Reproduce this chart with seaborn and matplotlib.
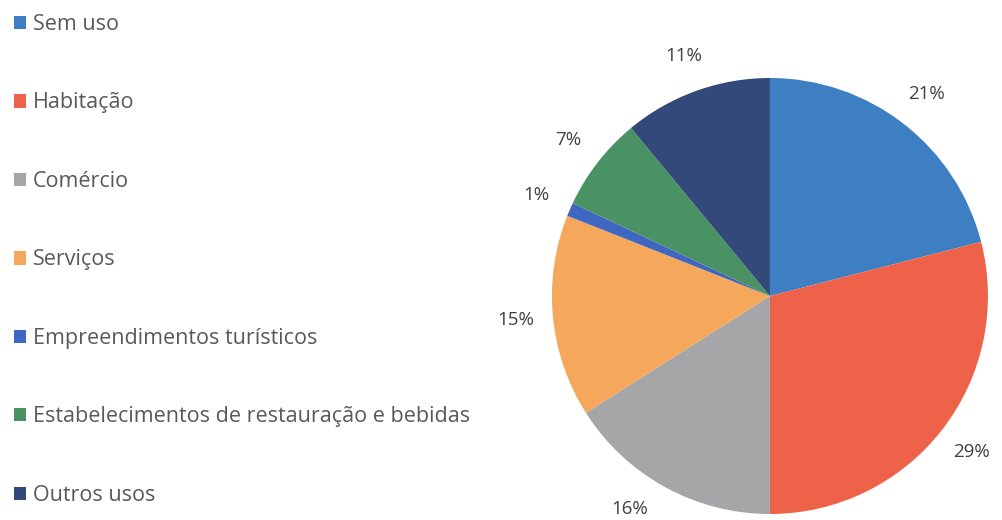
import matplotlib
matplotlib.use("Agg")
import matplotlib.pyplot as plt
import seaborn as sns
from matplotlib.patches import Patch

# dados
categorias = ['Sem uso', 'Habitação', 'Comércio', 'Serviços',
              'Empreendimentos turísticos',
              'Estabelecimentos de restauração e bebidas', 'Outros usos']
percentagens = [21, 29, 16, 15, 1, 7, 11]
cores = ['#3e7fc4', '#ee6249', '#a6a6a9', '#f5a75b', '#3f66c0', '#4a9263', '#33497a']

sns.set_theme(style="white")
plt.rcParams['font.family'] = ['Open Sans', 'DejaVu Sans']
paleta = sns.color_palette(cores)

fig = plt.figure(figsize=(10.03, 5.20), dpi=100)
ax = fig.add_axes([0.5503, 0.0115, 0.4347, 0.8385])

wedges, texts, autotexts = ax.pie(
    percentagens, colors=paleta, startangle=90, counterclock=False,
    autopct='%1.0f%%', pctdistance=1.17,
    wedgeprops=dict(linewidth=0),
    textprops=dict(fontsize=13.5, color='#404040'))
for t in autotexts:
    t.set_clip_on(False)
# 16% fica quase no fundo da figura
autotexts[2].set_position((autotexts[2].get_position()[0] - 0.08,
                           autotexts[2].get_position()[1] + 0.05))
ax.set_xlim(-1, 1)
ax.set_ylim(-1, 1)
ax.set_aspect('equal')

handles = [Patch(facecolor=c, edgecolor='none') for c in paleta]
fig.legend(handles, categorias, loc='upper left', bbox_to_anchor=(0.0, 1.0),
           frameon=False, fontsize=15.5, labelcolor='#595959',
           handlelength=0.58, handleheight=0.58, handletextpad=0.3,
           labelspacing=2.67, borderaxespad=0.25)

fig.savefig('out.png', dpi=100)
